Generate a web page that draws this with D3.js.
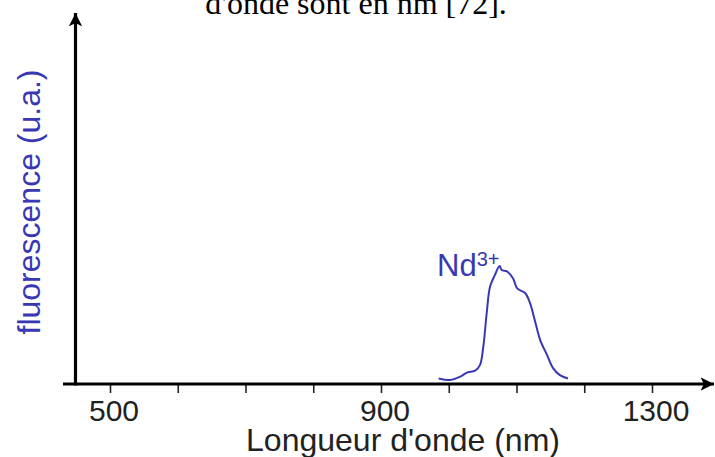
<!DOCTYPE html>
<html>
<head>
<meta charset="utf-8">
<script src="https://cdn.jsdelivr.net/npm/d3@7"></script>
<style>
  html, body { margin: 0; padding: 0; background: #fff; }
  svg { display: block; }
</style>
</head>
<body>
<svg id="chart" width="715" height="457"></svg>
<script>
// Data
const wavelengths = [985, 1002, 1017, 1027, 1039, 1046, 1051, 1056, 1061, 1068, 1075, 1078, 1086, 1095, 1101, 1113, 1120, 1127, 1135, 1145, 1154, 1164, 1176];
const fluorescence = [1.5, 1.1, 2.0, 3.1, 3.6, 5.1, 10.1, 19.2, 26.4, 29.5, 32.0, 30.9, 30.5, 28.6, 25.9, 24.6, 21.9, 17.3, 11.9, 7.9, 4.3, 2.4, 1.5];
const xTicks = [500, 600, 700, 800, 900, 1000, 1100, 1200, 1300];
const xTickLabels = [500, 900, 1300];
const caption = "d'onde sont en nm [72].";
const xTitle = "Longueur d'onde (nm)";
const yTitle = "fluorescence (u.a.)";
const peakLabel = "Nd";
const peakSup = "3+";

const svg = d3.select("#chart");
const blue = "#3838b4";
const sans = "'Liberation Sans', Arial, sans-serif";

const x = d3.scaleLinear().domain([500, 1300]).range([110, 652]);
const y = d3.scaleLinear().domain([0, 100]).range([384, 15]);

// caption (cut off at top, as in the reference)
svg.append("text")
  .attr("x", 356).attr("y", 14)
  .attr("text-anchor", "middle")
  .attr("font-family", "'Liberation Serif', 'Times New Roman', serif")
  .attr("font-size", 32)
  .attr("fill", "#000")
  .text(caption);

// arrow marker
const defs = svg.append("defs");
defs.append("marker")
  .attr("id", "arrow")
  .attr("viewBox", "0 0 10 10")
  .attr("refX", 10).attr("refY", 5)
  .attr("markerWidth", 4.2).attr("markerHeight", 4.6)
  .attr("markerUnits", "strokeWidth")
  .attr("orient", "auto")
  .append("path")
  .attr("d", "M0,0 L10,5 L0,10 L2.5,5 Z")
  .attr("fill", "#000");

// x axis ticks
const xAxis = d3.axisBottom(x)
  .tickValues(xTicks)
  .tickSize(9)
  .tickFormat(() => "");
const gx = svg.append("g").attr("transform", "translate(0,384)").call(xAxis);
gx.select(".domain").remove();
gx.selectAll(".tick line").attr("stroke", "#222").attr("stroke-width", 1.6);

// tick labels
svg.append("g").selectAll("text")
  .data(xTickLabels)
  .join("text")
  .attr("x", d => x(d) + 4)
  .attr("y", 421)
  .attr("text-anchor", "middle")
  .attr("font-family", sans)
  .attr("font-size", 30)
  .attr("fill", "#222")
  .text(d => d);

// axis lines
svg.append("line")
  .attr("x1", 63).attr("y1", 384).attr("x2", 714).attr("y2", 384)
  .attr("stroke", "#000").attr("stroke-width", 3.2)
  .attr("marker-end", "url(#arrow)");
svg.append("line")
  .attr("x1", 75.5).attr("y1", 385.5).attr("x2", 75.5).attr("y2", 13)
  .attr("stroke", "#000").attr("stroke-width", 3.2)
  .attr("marker-end", "url(#arrow)");

// titles
svg.append("text")
  .attr("x", 403).attr("y", 451)
  .attr("text-anchor", "middle")
  .attr("font-family", sans)
  .attr("font-size", 32)
  .attr("fill", "#222")
  .text(xTitle);

svg.append("text")
  .attr("transform", "translate(40,202) rotate(-90)")
  .attr("text-anchor", "middle")
  .attr("font-family", sans)
  .attr("font-size", 32)
  .attr("fill", blue)
  .text(yTitle);

// spectrum
const pts = wavelengths.map((w, i) => [w, fluorescence[i]]);
const line = d3.line()
  .x(d => x(d[0]))
  .y(d => y(d[1]))
  .curve(d3.curveCatmullRom.alpha(0.5));
svg.append("path")
  .datum(pts)
  .attr("d", line)
  .attr("fill", "none")
  .attr("stroke", blue)
  .attr("stroke-width", 2);

// peak label
const lbl = svg.append("text")
  .attr("x", 437).attr("y", 276)
  .attr("font-family", sans)
  .attr("font-size", 31)
  .attr("fill", blue);
lbl.append("tspan").text(peakLabel);
lbl.append("tspan")
  .attr("font-size", 20)
  .attr("dy", -10)
  .text(peakSup);
</script>
</body>
</html>
